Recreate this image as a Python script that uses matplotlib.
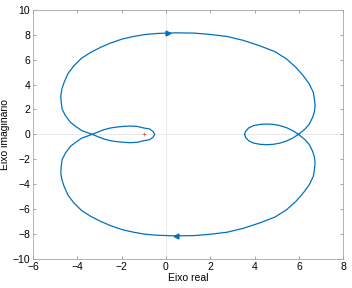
import numpy as np
import matplotlib
matplotlib.use('Agg')
import matplotlib.pyplot as plt

plt.rcParams['font.family'] = ['Liberation Sans', 'DejaVu Sans']

# positive-frequency branch of the Nyquist curve
re_pos = [3.55, 3.59, 3.73, 3.95, 4.25, 4.55, 4.85, 5.15, 5.45, 5.75, 5.98,
          6.28, 6.47, 6.62, 6.7, 6.73, 6.7, 6.65, 6.47, 6.2, 5.87, 5.45, 4.93,
          4.25, 3.5, 2.75, 2.0, 1.25, 0.42, -0.4, -0.93, -1.46, -1.98, -2.5,
          -2.96, -3.4, -3.82, -4.16, -4.42, -4.6, -4.7, -4.75, -4.73, -4.69,
          -4.54, -4.31, -4.04, -3.79, -3.33, -3.11, -2.81, -2.51, -2.2, -1.91,
          -1.61, -1.31, -1.0, -0.74, -0.59, -0.51]
im_pos = [0.0, 0.24, 0.51, 0.7, 0.8, 0.83, 0.8, 0.7, 0.53, 0.27, 0.0,
          -0.43, -0.83, -1.36, -1.82, -2.3, -2.83, -3.37, -4.04, -4.7, -5.37,
          -6.04, -6.63, -7.1, -7.54, -7.86, -8.02, -8.13, -8.15, -8.1, -8.02,
          -7.86, -7.65, -7.33, -6.98, -6.58, -6.1, -5.5, -4.89, -4.17, -3.64,
          -3.1, -2.57, -2.03, -1.5, -0.96, -0.59, -0.29, 0.0, 0.16, 0.37, 0.51,
          0.59, 0.64, 0.67, 0.64, 0.51, 0.43, 0.24, 0.0]

# negative-frequency branch is the mirror image
re_all = np.concatenate([re_pos, re_pos[::-1]])
im_all = np.concatenate([im_pos, -np.array(im_pos[::-1])])

# arrow positions
arrow_top = (0.1, 8.1)
arrow_bot = (0.45, -8.15)

xticks = [-6, -4, -2, 0, 2, 4, 6, 8]
yticks = [-10, -8, -6, -4, -2, 0, 2, 4, 6, 8, 10]

blue = '#0072BD'

fig = plt.figure(figsize=(3.52, 2.88), dpi=100)
ax = fig.add_axes([0.094, 0.101, 0.881, 0.865])

# zero lines
ax.axhline(0, color='#e6e6e6', lw=0.6, zorder=0)
ax.axvline(0, color='#e6e6e6', lw=0.6, zorder=0)

ax.plot(re_all, im_all, color=blue, lw=0.9)
ax.plot(*arrow_top, marker='>', color=blue, ms=3.5)
ax.plot(*arrow_bot, marker='<', color=blue, ms=3.5)
ax.plot(-1, 0, marker='+', color='#d9534f', ms=3, mew=0.5)

ax.set_xlim(-6, 8)
ax.set_ylim(-10, 10)
ax.set_xticks(xticks)
ax.set_yticks(yticks)
ax.tick_params(direction='in', length=2.5, width=0.5, color='#808080',
               labelsize=7.5, pad=2, top=True, right=True)
for s in ax.spines.values():
    s.set_color('#a6a6a6')
    s.set_linewidth(0.6)

ax.set_xlabel('Eixo real', fontsize=7.5, labelpad=1)
ax.set_ylabel('Eixo imaginário', fontsize=7.5, labelpad=2)

fig.savefig('out.png', dpi=100)
